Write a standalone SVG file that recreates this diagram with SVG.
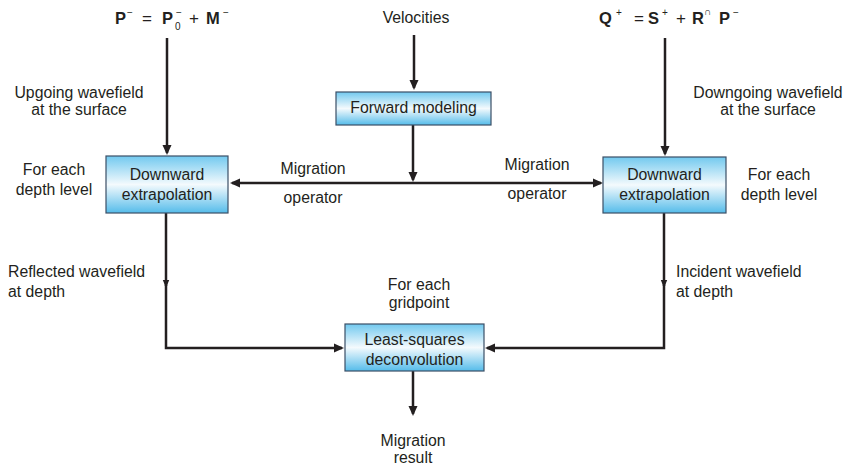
<svg xmlns="http://www.w3.org/2000/svg" width="853" height="471" viewBox="0 0 853 471">
<style>
  text { font-family: "Liberation Sans", Arial, sans-serif; font-size: 15.8px; fill: #231f20; }
  .c { text-anchor: middle; }
  .eq { font-weight: bold; font-size: 16.5px; }
  .op { font-weight: normal; font-size: 17px; }
  .sup { font-size: 10px; font-weight: normal; }
  .box { fill: url(#bg); stroke: #3b4f66; stroke-width: 1.2; }
  .ln { fill: none; stroke: #231f20; stroke-width: 2.5; }
</style>
<defs>
  <linearGradient id="bg" x1="0" y1="0" x2="0" y2="1">
    <stop offset="0" stop-color="#72c9ef"/>
    <stop offset="0.5" stop-color="#f4fafd"/>
    <stop offset="1" stop-color="#55bcea"/>
  </linearGradient>
  <marker id="ah" markerUnits="userSpaceOnUse" markerWidth="10" markerHeight="10" refX="8" refY="5" orient="auto" viewBox="0 0 10 10">
    <path d="M0,0.5 L10,5 L0,9.5 z" fill="#231f20"/>
  </marker>
  <marker id="ahs" markerUnits="userSpaceOnUse" markerWidth="8" markerHeight="8" refX="6" refY="4" orient="auto" viewBox="0 0 8 8">
    <path d="M0,0.8 L8,4 L0,7.2 z" fill="#231f20"/>
  </marker>
</defs>

<g id="equations">
  <text class="eq" x="115" y="24">P<tspan class="sup" x="127" y="16">−</tspan><tspan class="op" x="142" y="24">=</tspan><tspan x="162" y="24">P</tspan><tspan class="sup" x="176" y="16">−</tspan><tspan class="sup" x="175" y="30">0</tspan><tspan class="op" x="189" y="24">+</tspan><tspan x="206" y="24">M</tspan><tspan class="sup" x="223" y="16">−</tspan></text>
  <text class="eq" x="599" y="24">Q<tspan class="sup" x="616" y="16">+</tspan><tspan class="op" x="634" y="24">=</tspan><tspan x="648" y="24">S</tspan><tspan class="sup" x="662" y="16">+</tspan><tspan class="op" x="676" y="24">+</tspan><tspan x="692" y="24">R</tspan><tspan class="sup" x="704" y="15">∩</tspan><tspan x="719" y="24">P</tspan><tspan class="sup" x="733" y="16">−</tspan></text>
</g>

<g id="labels">
  <text class="c" x="416" y="23">Velocities</text>
  <text class="c" x="79" y="98">Upgoing wavefield</text>
  <text class="c" x="79" y="115">at the surface</text>
  <text class="c" x="768" y="98">Downgoing wavefield</text>
  <text class="c" x="768" y="115">at the surface</text>
  <text class="c" x="54" y="175">For each</text>
  <text class="c" x="54" y="195">depth level</text>
  <text class="c" x="779" y="180">For each</text>
  <text class="c" x="779" y="200">depth level</text>
  <text class="c" x="313" y="174">Migration</text>
  <text class="c" x="313" y="203">operator</text>
  <text class="c" x="537" y="170">Migration</text>
  <text class="c" x="537" y="199">operator</text>
  <text x="8" y="277">Reflected wavefield</text>
  <text x="8" y="297">at depth</text>
  <text x="676" y="277">Incident wavefield</text>
  <text x="676" y="297">at depth</text>
  <text class="c" x="419" y="290">For each</text>
  <text class="c" x="419" y="308">gridpoint</text>
  <text class="c" x="413" y="446">Migration</text>
  <text class="c" x="413" y="463">result</text>
</g>

<g id="connectors">
  <line class="ln" x1="414" y1="35" x2="414" y2="88" marker-end="url(#ah)"/>
  <line class="ln" x1="167" y1="38" x2="167" y2="153" marker-end="url(#ah)"/>
  <line class="ln" x1="665" y1="38" x2="665" y2="154" marker-end="url(#ah)"/>
  <line class="ln" x1="413" y1="125" x2="413" y2="180" marker-end="url(#ah)"/>
  <line class="ln" x1="413" y1="183" x2="232" y2="183" marker-end="url(#ah)"/>
  <line class="ln" x1="413" y1="183" x2="601" y2="183" marker-end="url(#ah)"/>
  <line class="ln" x1="166" y1="213" x2="166" y2="286" marker-end="url(#ahs)"/>
  <polyline class="ln" points="166,285 166,348 342,348" marker-end="url(#ah)"/>
  <line class="ln" x1="664" y1="213" x2="664" y2="286" marker-end="url(#ahs)"/>
  <polyline class="ln" points="664,285 664,348 487,348" marker-end="url(#ah)"/>
  <line class="ln" x1="413" y1="371" x2="413" y2="414" marker-end="url(#ah)"/>
</g>

<g id="forward-modeling">
  <rect class="box" x="336" y="92" width="155" height="33"/>
  <text class="c" x="413.5" y="113">Forward modeling</text>
</g>
<g id="downward-left">
  <rect class="box" x="106" y="156" width="122" height="57"/>
  <text class="c" x="167" y="180">Downward</text>
  <text class="c" x="167" y="200">extrapolation</text>
</g>
<g id="downward-right">
  <rect class="box" x="603" y="157" width="123" height="56"/>
  <text class="c" x="664.5" y="180">Downward</text>
  <text class="c" x="664.5" y="200">extrapolation</text>
</g>
<g id="least-squares">
  <rect class="box" x="345" y="324" width="139" height="47"/>
  <text class="c" x="414.5" y="345">Least-squares</text>
  <text class="c" x="414.5" y="365">deconvolution</text>
</g>
</svg>
